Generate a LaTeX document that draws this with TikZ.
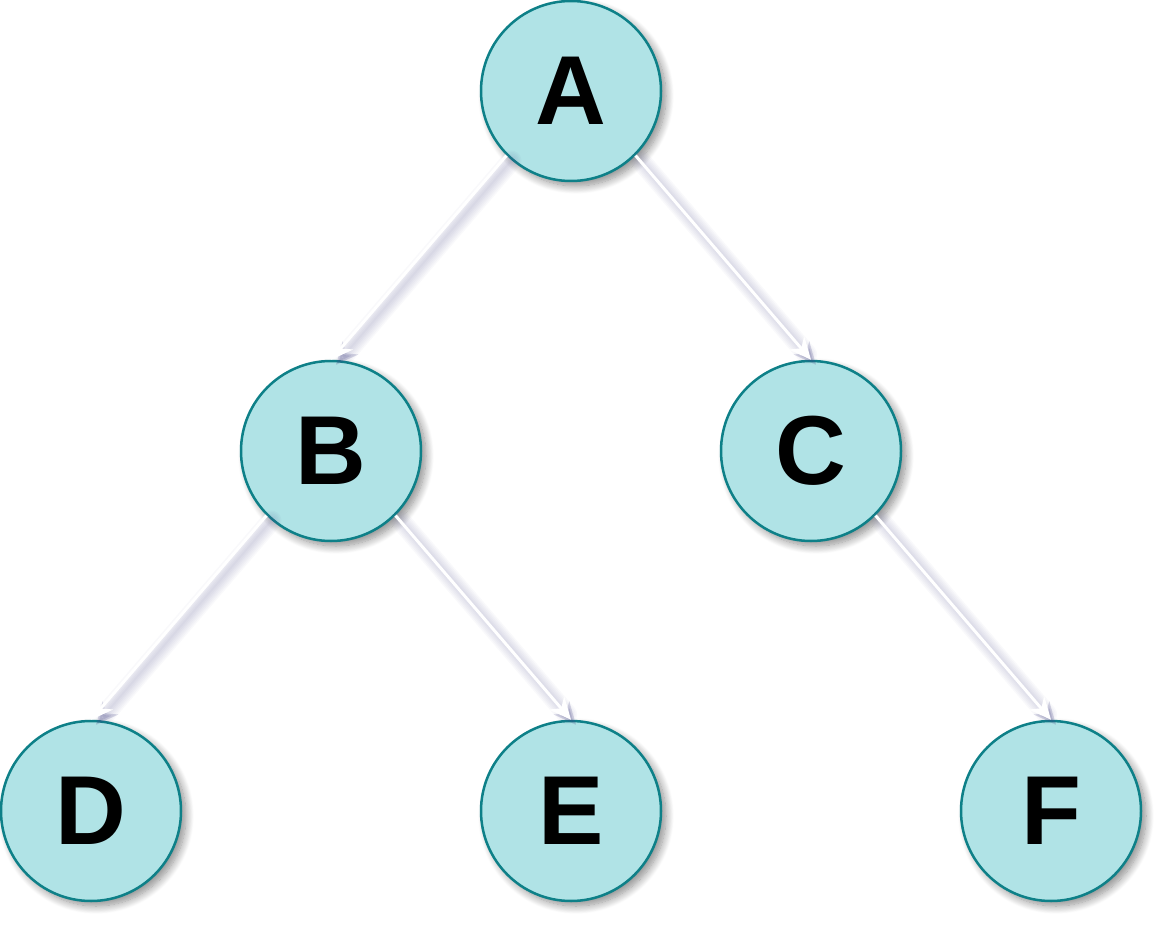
\documentclass[tikz,border=0pt]{standalone}
\usepackage{fontspec}
\setmainfont{Liberation Sans}
\usetikzlibrary{arrows.meta,shadows.blur}
\definecolor{nodefill}{HTML}{B0E3E6}
\definecolor{nodeline}{HTML}{0E8088}
\definecolor{shadowc}{RGB}{80,80,140}
\tikzset{
  treenode/.style={circle, minimum size=180pt, inner sep=0pt, fill=nodefill, draw=nodeline, line width=2.5pt,
    font=\fontsize{98}{98}\selectfont\bfseries,
    blur shadow={shadow xshift=5pt, shadow yshift=-5pt, shadow blur radius=8pt, shadow blur steps=14, shadow opacity=45}},
  edgeshadow/.style={draw=shadowc, line cap=round, opacity=0.035, -{Stealth[length=22pt,width=20pt,inset=7pt]}},
  edgeline/.style={draw=white, line width=3pt, -{Stealth[length=22pt,width=20pt,inset=7pt]}}
}
\newcommand{\treeedge}[2]{%
  \foreach \w in {2,5,8,11,14,17,20}{\draw[edgeshadow, line width=\w pt, transform canvas={shift={(5pt,-5pt)}}] (#1) -- (#2);}
  \draw[edgeline] (#1) -- (#2);
}
\begin{document}
\begin{tikzpicture}[x=1pt,y=-1pt]
\useasboundingbox (0,0) rectangle (1176,936);
\node[treenode] (A) at (571,91) {A};
\node[treenode] (B) at (331,451) {B};
\node[treenode] (C) at (811,451) {C};
\node[treenode] (D) at (91,811) {D};
\node[treenode] (E) at (571,811) {E};
\node[treenode] (F) at (1051,811) {F};
\treeedge{A.south west}{B.north}
\treeedge{A.south east}{C.north}
\treeedge{B.south west}{D.north}
\treeedge{B.south east}{E.north}
\treeedge{C.south east}{F.north}
\end{tikzpicture}
\end{document}
